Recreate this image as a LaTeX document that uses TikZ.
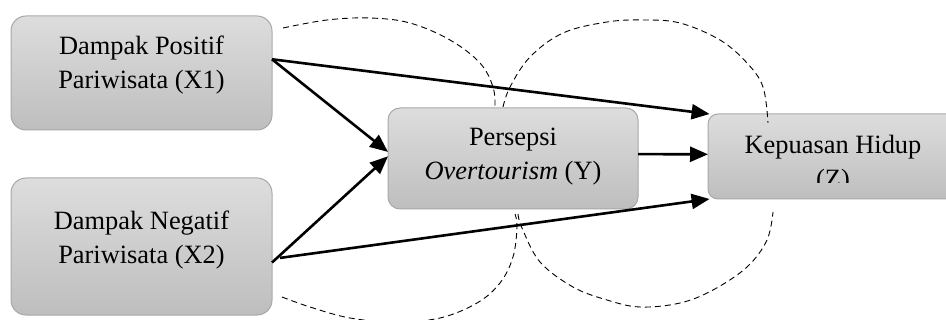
\documentclass[tikz,border=0pt]{standalone}
\usepackage{fontspec}
\setmainfont{Liberation Serif}
\usetikzlibrary{arrows.meta}
\definecolor{boxtop}{RGB}{221,221,221}
\definecolor{boxbot}{RGB}{190,190,190}
\definecolor{boxline}{RGB}{168,168,168}
\begin{document}
\begin{tikzpicture}[x=0.5pt,y=-0.5pt,
  vbox/.style={draw=boxline, line width=0.5pt, top color=boxtop, bottom color=boxbot, inner sep=0pt, outer sep=0pt},
  lbl/.style={align=center, font=\fontsize{13.2}{17}\selectfont, inner sep=0pt},
  conn/.style={line width=1.3pt, -{Triangle[length=9pt,width=7.5pt]}},
  zone/.style={dash pattern=on 3pt off 2pt, line width=0.45pt}]
\useasboundingbox (0,0) rectangle (946,320);
\clip (0,0) rectangle (946,320);
% boxes
\node[vbox, rounded corners=7.5pt, minimum width=130.5pt, minimum height=57pt] (x1) at (141.5,73) {};
\node[vbox, rounded corners=7.5pt, minimum width=130.5pt, minimum height=68.5pt] (x2) at (141.5,246.5) {};
\node[vbox, rounded corners=6pt, minimum width=125pt, minimum height=50.5pt] (y) at (513,158.5) {};
\node[vbox, rounded corners=5pt, minimum width=125pt, minimum height=42.5pt] (z) at (833,156.5) {};
% texts
\node[lbl] (t1) at (141.5,65) {Dampak Positif\\Pariwisata (X1)};
\node[lbl] (t2) at (141.5,240) {Dampak Negatif\\Pariwisata (X2)};
\node[lbl] (ty) at (513,157) {Persepsi\\\textit{Overtourism} (Y)};
\begin{scope}
\clip (700,100) rectangle (946,183);
\node[lbl] (tz) at (833,164) {Kepuasan Hidup\\(Z)};
\end{scope}
% dashed zones
\draw[zone] plot[smooth, tension=0.6] coordinates {(283,28) (327,20) (370,18) (410,23) (450,40) (480,63) (493,87) (495,107)};
\draw[zone] plot[smooth, tension=0.6] coordinates {(503,107) (510,87) (530,57) (563,33) (607,22) (643,20) (680,23) (720,40) (747,63) (763,87) (768,123)};
\draw[zone] plot[smooth, tension=0.6] coordinates {(282,297) (310,307) (350,318) (395,322) (440,318) (477,303) (500,283) (513,257) (517,227) (515,214)};
\draw[zone] plot[smooth, tension=0.6] coordinates {(518,214) (522,228) (540,262) (573,287) (607,300) (640,307) (680,303) (713,290) (747,267) (767,240) (773,212)};
% connectors
\draw[conn] (x1.6) -- (y.177);
\draw[conn] (x2.-7) -- (y.179);
\draw[conn] (x1.6) -- (z.161);
\draw[conn] ([xshift=4pt]x2.-5) -- (z.199);
\draw[conn] (y.2) -- (z.179);
\end{tikzpicture}
\end{document}
